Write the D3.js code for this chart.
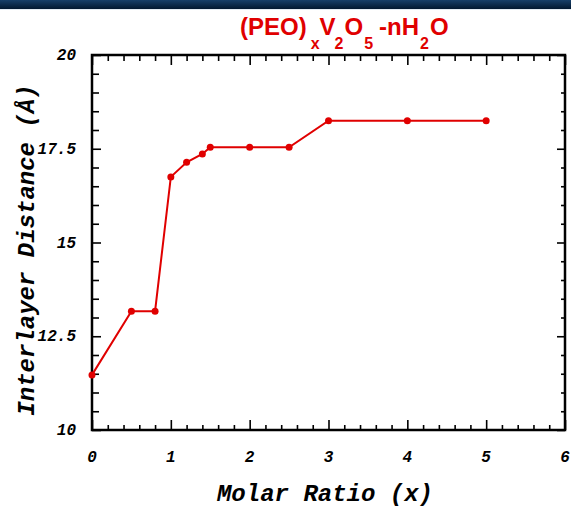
<!DOCTYPE html>
<html><head><meta charset="utf-8">
<script src="https://cdn.jsdelivr.net/npm/d3@7/dist/d3.min.js"></script>
<style>html,body{margin:0;padding:0;background:#fff;overflow:hidden}</style>
</head><body>
<svg id="c" width="571" height="507"></svg>
<script>
const molarRatio = [0, 0.5, 0.8, 1.0, 1.2, 1.4, 1.5, 2, 2.5, 3, 4, 5];
const distance = [11.47, 13.17, 13.17, 16.75, 17.14, 17.36, 17.54, 17.54, 17.54, 18.25, 18.25, 18.25];
const xTicks = [0, 1, 2, 3, 4, 5, 6];
const yTicks = [10, 12.5, 15, 17.5, 20];
const yTickLabels = ["10", "12.5", "15", "17.5", "20"];

(function(){
const svg = d3.select("#c");
const red = "#e00000";
const L = 92, R = 565, T = 55, B = 430;
const x = d3.scaleLinear().domain([0, 6]).range([L, R]);
const y = d3.scaleLinear().domain([10, 20]).range([B, T]);

// top banner
const defs = svg.append("defs");
const g = defs.append("linearGradient").attr("id","bar").attr("x1",0).attr("y1",0).attr("x2",0).attr("y2",1);
g.append("stop").attr("offset","0%").attr("stop-color","#17406a");
g.append("stop").attr("offset","100%").attr("stop-color","#021830");
svg.append("rect").attr("x",0).attr("y",0).attr("width",571).attr("height",9).attr("fill","url(#bar)");
svg.append("rect").attr("x",0).attr("y",9).attr("width",571).attr("height",1).attr("fill","#e3ebf3");

const tickFont = "'Liberation Mono','Courier New',monospace";
const minorX = d3.range(0, 6.0001, 0.2);
const minorY = d3.range(10, 20.0001, 0.5);
const isMajor = (v, step) => Math.abs(v/step - Math.round(v/step)) < 1e-6;

const axB = svg.append("g").attr("transform",`translate(0,${B})`)
  .call(d3.axisTop(x).tickValues(minorX).tickFormat("").tickSizeOuter(0).tickSize(0));
axB.select(".domain").remove();
axB.selectAll(".tick line").attr("y2", d => isMajor(d,1) ? -10 : -5).attr("stroke","#000").attr("stroke-width",1.6);

const axT = svg.append("g").attr("transform",`translate(0,${T})`)
  .call(d3.axisBottom(x).tickValues(minorX).tickFormat("").tickSizeOuter(0).tickSize(0));
axT.select(".domain").remove();
axT.selectAll(".tick line").attr("y2", d => isMajor(d,1) ? 10 : 6).attr("stroke","#000").attr("stroke-width",1.6);

const axL = svg.append("g").attr("transform",`translate(${L},0)`)
  .call(d3.axisRight(y).tickValues(minorY).tickFormat("").tickSizeOuter(0).tickSize(0));
axL.select(".domain").remove();
axL.selectAll(".tick line").attr("x2", d => isMajor(d,2.5) ? 9 : 7).attr("stroke","#000").attr("stroke-width",1.6);

const axR = svg.append("g").attr("transform",`translate(${R},0)`)
  .call(d3.axisLeft(y).tickValues(minorY).tickFormat("").tickSizeOuter(0).tickSize(0));
axR.select(".domain").remove();
axR.selectAll(".tick line").attr("x2", d => isMajor(d,2.5) ? -8 : -4).attr("stroke","#000").attr("stroke-width",1.6);

// frame
svg.append("rect").attr("x",L).attr("y",T).attr("width",R-L).attr("height",B-T)
  .attr("fill","none").attr("stroke","#000").attr("stroke-width",2.5);

// tick labels
svg.append("g").selectAll("text").data(xTicks).join("text")
  .attr("x", d => x(d)).attr("y", 462).attr("text-anchor","middle")
  .attr("font-family", tickFont).attr("font-weight","bold").attr("font-style","italic")
  .attr("font-size", 16).attr("fill","#000").text(d => d);
svg.append("g").selectAll("text").data(yTicks).join("text")
  .attr("x", 76).attr("y", d => y(d) + 5).attr("text-anchor","end")
  .attr("font-family", tickFont).attr("font-weight","bold").attr("font-style","italic")
  .attr("font-size", 16).attr("fill","#000").text((d,i) => yTickLabels[i]);

// axis titles
svg.append("text").attr("x", 325).attr("y", 501).attr("text-anchor","middle")
  .attr("font-family", tickFont).attr("font-weight","bold").attr("font-style","italic")
  .attr("font-size", 24).attr("fill","#000").text("Molar Ratio (x)");
svg.append("text").attr("transform","translate(34,250) rotate(-90)").attr("text-anchor","middle")
  .attr("font-family", tickFont).attr("font-weight","bold").attr("font-style","italic")
  .attr("font-size", 24).attr("fill","#000").text("Interlayer Distance (Å)");

// title
const title = svg.append("text").attr("x", 240).attr("y", 35)
  .attr("font-family","'Liberation Sans',Arial,sans-serif").attr("font-weight","bold")
  .attr("font-size", 24).attr("fill", red);
const parts = [["(PEO)",0,0],["x",1,4],["V",0,0],["2",1,-1],["O",0,1],["5",1,1],["-nH",0,6],["2",1,1],["O",0,1]];
parts.forEach(([t,s,dx]) => {
  title.append("tspan").attr("font-size", s ? 16 : 24)
    .attr("baseline-shift", s ? "-14" : null).attr("dx", dx).text(t);
});

// data
const pts = molarRatio.map((v,i) => [v, distance[i]]);
svg.append("path").datum(pts)
  .attr("d", d3.line().x(d => x(d[0])).y(d => y(d[1])))
  .attr("fill","none").attr("stroke", red).attr("stroke-width", 2);
svg.append("g").selectAll("circle").data(pts).join("circle")
  .attr("cx", d => x(d[0])).attr("cy", d => y(d[1])).attr("r", 3.5).attr("fill", red);
})();
</script>
</body></html>
